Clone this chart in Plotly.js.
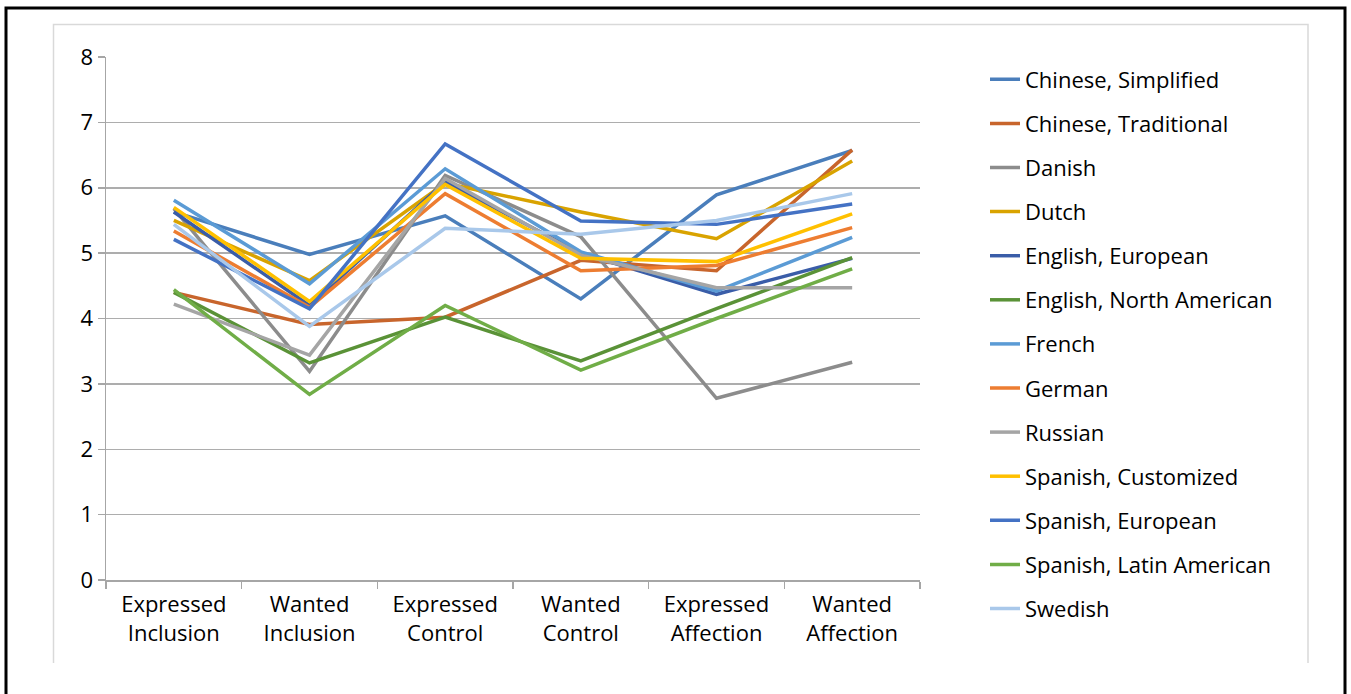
<!DOCTYPE html>
<html>
<head>
<meta charset="utf-8">
<script src="https://cdn.plot.ly/plotly-3.0.1.min.js"></script>
<style>html,body{margin:0;padding:0;background:#fff;}#chart{width:1351px;height:694px;}</style>
</head>
<body>
<div id="chart"></div>
<script>
const categories = ["Expressed<br>Inclusion", "Wanted<br>Inclusion", "Expressed<br>Control", "Wanted<br>Control", "Expressed<br>Affection", "Wanted<br>Affection"];
const seriesNames = ["Chinese, Simplified", "Chinese, Traditional", "Danish", "Dutch", "English, European", "English, North American", "French", "German", "Russian", "Spanish, Customized", "Spanish, European", "Spanish, Latin American", "Swedish"];
const chineseSimplified   = [5.63, 4.98, 5.57, 4.30, 5.89, 6.57];
const chineseTraditional  = [4.40, 3.91, 4.02, 4.89, 4.73, 6.58];
const danish              = [5.68, 3.19, 6.19, 5.25, 2.78, 3.33];
const dutch               = [5.50, 4.58, 6.07, 5.63, 5.22, 6.41];
const englishEuropean     = [5.63, 4.20, 6.09, 5.00, 4.37, 4.92];
const englishNorthAmerican= [4.40, 3.32, 4.02, 3.35, 4.15, 4.93];
const french              = [5.81, 4.53, 6.29, 5.02, 4.42, 5.24];
const german              = [5.34, 4.17, 5.91, 4.73, 4.81, 5.39];
const russian             = [4.22, 3.44, 6.14, 4.97, 4.47, 4.47];
const spanishCustomized   = [5.70, 4.26, 6.05, 4.92, 4.87, 5.60];
const spanishEuropean     = [5.21, 4.15, 6.67, 5.49, 5.44, 5.75];
const spanishLatinAmerican= [4.44, 2.84, 4.20, 3.21, 4.00, 4.76];
const swedish             = [5.44, 3.88, 5.38, 5.29, 5.50, 5.91];

const seriesValues = [chineseSimplified, chineseTraditional, danish, dutch, englishEuropean, englishNorthAmerican, french, german, russian, spanishCustomized, spanishEuropean, spanishLatinAmerican, swedish];
const colors = ["#4A7EBB", "#C8652C", "#8C8C8C", "#D9A300", "#3A5DA8", "#5A9237", "#5B9BD5", "#ED7D31", "#A5A5A5", "#FFC000", "#4472C4", "#70AD47", "#A9C8EA"];

const traces = seriesNames.map((name, i) => ({
  type: "scatter",
  mode: "lines",
  name: name,
  x: categories,
  y: seriesValues[i],
  legendgroup: "g" + i,
  line: {color: colors[i], width: 3.5},
  hoverinfo: "x+y+name"
}));

// plot area in pixels: x 106..920, y 57..580
const L = 106, R = 920, T = 57, B = 580;
const pw = R - L, ph = B - T;
const px = v => (v - L) / pw;
const py = v => (B - v) / ph;

const layout = {
  width: 1351,
  height: 694,
  margin: {l: L, r: 1351 - R, t: T, b: 694 - B, pad: 0},
  paper_bgcolor: "#ffffff",
  plot_bgcolor: "#ffffff",
  font: {family: "Open Sans, Noto Sans, sans-serif", size: 22, color: "#000000"},
  showlegend: true,
  legend: {
    x: px(985), y: py(58.5), xanchor: "left", yanchor: "top",
    font: {size: 22, color: "#000000"},
    traceorder: "grouped",
    tracegroupgap: 12.5,
    itemwidth: 30,
    maxheight: 680,
    bgcolor: "rgba(0,0,0,0)"
  },
  xaxis: {
    type: "category",
    range: [-0.5, 5.5],
    showgrid: false,
    showline: true,
    linecolor: "#A6A6A6",
    linewidth: 1.5,
    ticks: "outside",
    tickson: "boundaries",
    ticklen: 7,
    tickcolor: "#A6A6A6",
    tickwidth: 1.5,
    ticklabelstandoff: 4,
    tickfont: {size: 22, color: "#000000"},
    zeroline: false,
    fixedrange: true
  },
  yaxis: {
    range: [0, 8],
    dtick: 1,
    tick0: 0,
    showgrid: true,
    gridcolor: "#ADADAD",
    gridwidth: 1.5,
    showline: true,
    linecolor: "#A6A6A6",
    linewidth: 1.5,
    ticks: "outside",
    ticklen: 7,
    tickcolor: "#A6A6A6",
    tickwidth: 1.5,
    tickfont: {size: 22, color: "#000000"},
    zeroline: false,
    fixedrange: true
  },
  shapes: [
    {type: "rect", xref: "paper", yref: "paper", x0: px(6), x1: px(1345), y0: py(8), y1: py(720), line: {color: "#000000", width: 3}, fillcolor: "rgba(0,0,0,0)", layer: "above"},
    {type: "path", xref: "paper", yref: "paper", path: "M " + px(53.5) + "," + py(663) + " L " + px(53.5) + "," + py(24.5) + " L " + px(1308) + "," + py(24.5) + " L " + px(1308) + "," + py(663), line: {color: "#D9D9D9", width: 1.5}}
  ]
};

Plotly.newPlot("chart", traces, layout, {displayModeBar: false, staticPlot: true});
</script>
</body>
</html>
